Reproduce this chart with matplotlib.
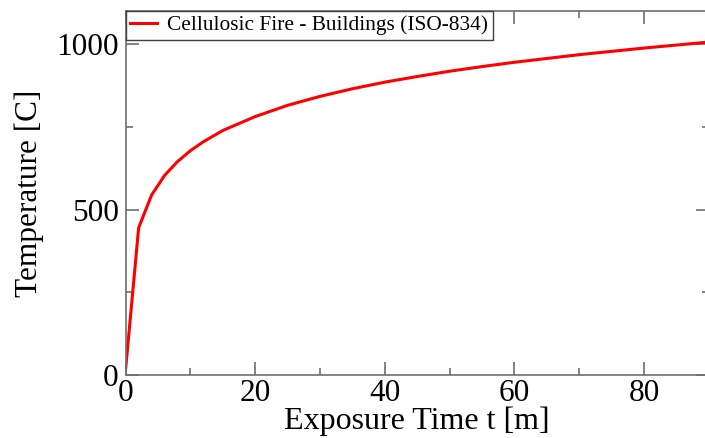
import matplotlib.pyplot as plt
from matplotlib.ticker import MultipleLocator

# Curva de fuego celulósico (tiempo en minutos, temperatura en C)
tiempo = [0, 2, 4, 6, 8, 10, 12, 15, 20, 25, 30, 35, 40, 45, 50, 55, 60, 70, 80, 90]
temperatura = [20, 445, 544, 603, 645, 678, 705, 739, 781, 815, 842, 865,
               885, 902, 918, 932, 945, 968, 988, 1006]
etiqueta = 'Cellulosic Fire - Buildings (ISO-834)'

plt.rcParams['font.family'] = ['Liberation Serif', 'DejaVu Serif']

fig = plt.figure(figsize=(7.05, 4.38), dpi=100)
ax = fig.add_axes([125.7 / 705, 63 / 438, 583 / 705, 364 / 438])

ax.plot(tiempo, temperatura, color='#ff0000', lw=2.2, label=etiqueta)

ax.set_xlim(0, 90)
ax.set_ylim(0, 1100)
ax.xaxis.set_major_locator(MultipleLocator(20))
ax.xaxis.set_minor_locator(MultipleLocator(10))
ax.yaxis.set_major_locator(MultipleLocator(500))
ax.yaxis.set_minor_locator(MultipleLocator(250))

gris = '#6e6e6e'
for lado in ax.spines.values():
    lado.set_color(gris)
    lado.set_linewidth(1.2)
ax.tick_params(which='both', direction='in', top=True, right=True, color=gris,
               width=1.2, labelsize=22.5, pad=5)
ax.tick_params(axis='x', pad=3)
ax.tick_params(which='major', length=9.5)
ax.tick_params(which='minor', length=5)

ax.set_xlabel('Exposure Time t [m]', fontsize=23, labelpad=-1)
ax.set_ylabel('Temperature [C]', fontsize=22.5, labelpad=9)

# Leyenda pegada a la esquina superior izquierda
leg = ax.legend(loc='upper left', borderaxespad=0, fontsize=15.4, fancybox=False,
                framealpha=1, handlelength=1.25, handletextpad=0.5, borderpad=0.2)
leg.get_frame().set_edgecolor('#404040')
leg.get_frame().set_linewidth(1.0)

plt.savefig('out.png', dpi=100)
